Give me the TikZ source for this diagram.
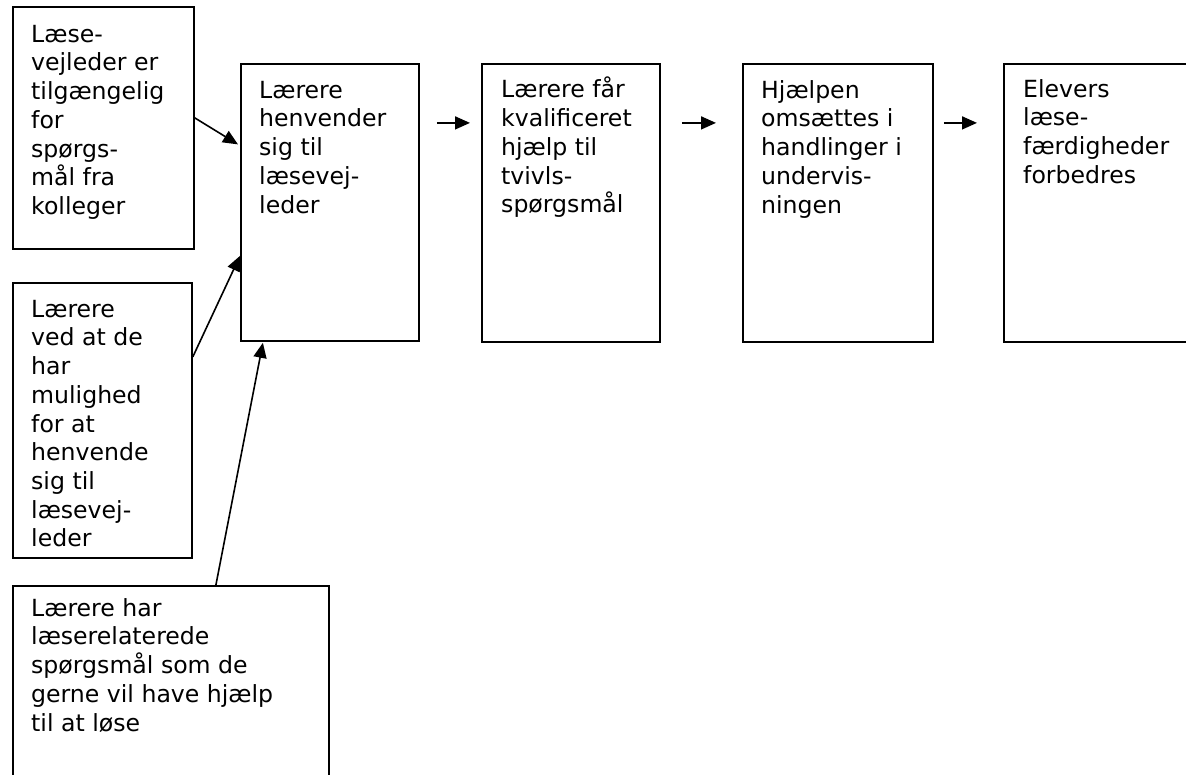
\documentclass[tikz,border=0pt]{standalone}
\usepackage{fontspec}
\setmainfont{DejaVu Sans}
\usetikzlibrary{arrows.meta}
\tikzset{
  box/.style={draw=black, line width=1.8pt, rectangle, inner sep=0pt, anchor=north west},
  txt/.style={anchor=north west, inner sep=0pt, align=left, font=\fontsize{23.6}{28.7}\selectfont},
  arr/.style={line width=1.6pt, -{Triangle[length=15pt,width=13pt]}},
}
\newcommand{\fl}{\rule{0pt}{20pt}}
\begin{document}
\begin{tikzpicture}[x=1pt,y=-1pt]
\clip (0,0) rectangle (1186,774);
\fill[white] (0,0) rectangle (1186,774);
% boxes
\node[box, minimum width=181pt, minimum height=242pt] (A) at (12,6) {};
\node[box, minimum width=178pt, minimum height=277pt] (B) at (240,63) {};
\node[box, minimum width=178pt, minimum height=278pt] (C) at (481,63) {};
\node[box, minimum width=190pt, minimum height=278pt] (D) at (742,63) {};
\node[box, minimum width=200pt, minimum height=278pt] (E) at (1003,63) {};
\node[box, minimum width=179pt, minimum height=275pt] (F) at (12,282) {};
\node[box, minimum width=316pt, minimum height=220pt] (G) at (12,585) {};
% texts
\node[txt] (tA) at (31,22) {\fl Læse-\\vejleder er\\tilgængelig\\for\\spørgs-\\mål fra\\kolleger};
\node[txt] (tB) at (259,78) {\fl Lærere\\henvender\\sig til\\læsevej-\\leder};
\node[txt] (tC) at (501,77) {\fl Lærere får\\kvalificeret\\hjælp til\\tvivls-\\spørgsmål};
\node[txt] (tD) at (761,78) {\fl Hjælpen\\omsættes i\\handlinger i\\undervis-\\ningen};
\node[txt] (tE) at (1023,77) {\fl Elevers\\læse-\\færdigheder\\forbedres};
\node[txt] (tF) at (31,297) {\fl Lærere\\ved at de\\har\\mulighed\\for at\\henvende\\sig til\\læsevej-\\leder};
\node[txt] (tG) at (31,596) {\fl Lærere har\\læserelaterede\\spørgsmål som de\\gerne vil have hjælp\\til at løse};
% arrows along the chain
\draw[arr] ([xshift=17pt,yshift=79.5pt]B.east) -- ([xshift=-11pt,yshift=80pt]C.west);
\draw[arr] ([xshift=21pt,yshift=80pt]C.east) -- ([xshift=-26pt,yshift=80pt]D.west);
\draw[arr] ([xshift=10pt,yshift=80pt]D.east) -- ([xshift=-26pt,yshift=80pt]E.west);
% arrows into B
\draw[arr] ([yshift=10pt]A.east) -- ([xshift=-2pt,yshift=58pt]B.west);
\draw[arr] ([yshift=63.5pt]F.east) -- ([yshift=-53.5pt]B.west);
\draw[arr] ([xshift=45pt]G.north) -- ([xshift=-67pt,yshift=-1pt]B.south);
\end{tikzpicture}
\end{document}
